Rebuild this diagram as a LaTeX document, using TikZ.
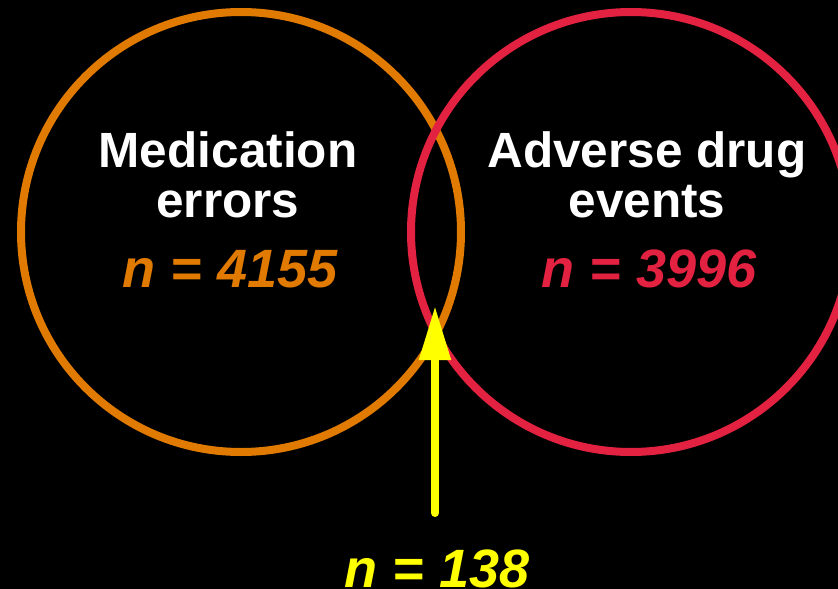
\documentclass[tikz,border=0pt]{standalone}
\usepackage{fontspec}
\setmainfont{Liberation Sans}
\usetikzlibrary{positioning,arrows.meta}

\definecolor{medorange}{RGB}{224,122,0}
\definecolor{adered}{RGB}{226,34,64}
\definecolor{hiyellow}{RGB}{255,255,0}

\tikzset{
  ring/.style={circle,draw,line width=8pt,inner sep=0pt,minimum size=440pt},
  title/.style={text=white,align=center,font=\fontsize{49.5}{50}\selectfont\bfseries},
  count/.style={font=\fontsize{54}{56}\selectfont\bfseries\itshape},
}

\begin{document}
\begin{tikzpicture}[x=1pt,y=-1pt]
  \fill[black] (0,0) rectangle (838,589);
  \useasboundingbox (0,0) rectangle (838,589);
  \node[ring,draw=medorange] (medcirc) at (241,232) {};
  \node[ring,draw=adered] (adecirc) at (631,232) {};
  \node[title,anchor=base] (medtitle) at (228,217) {Medication\\errors};
  \node[count,text=medorange,anchor=base] (medcount) at (230,287) {n = 4155};
  \node[title,anchor=base] (adetitle) at (647,217) {Adverse drug\\events};
  \node[count,text=adered,anchor=base] (adecount) at (649,287) {n = 3996};
  \node[count,text=hiyellow,anchor=base] (overlap) at (437,587) {n = 138};
  \coordinate (arrowtail) at (435,513);
  \coordinate (arrowtip) at (435,306);
  \draw[hiyellow,line width=8pt,line cap=round,
        -{Triangle[length=54pt,width=30pt]}] (arrowtail) -- (arrowtip);
\end{tikzpicture}
\end{document}
